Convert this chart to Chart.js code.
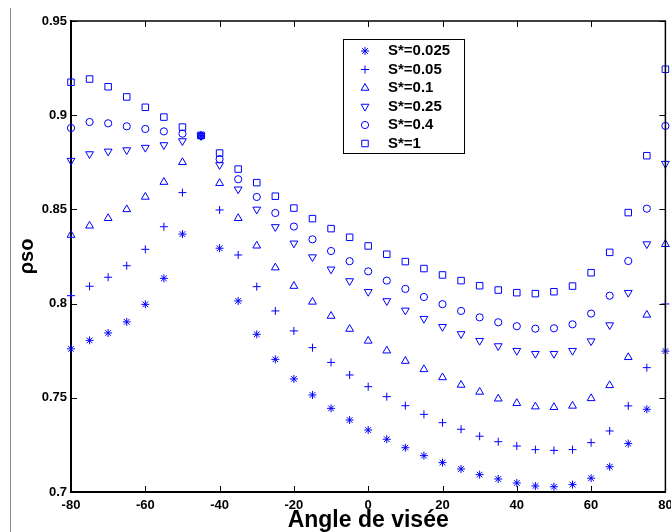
<!DOCTYPE html>
<html>
<head>
<meta charset="utf-8">
<script src="https://cdn.jsdelivr.net/npm/chart.js"></script>
<style>
  html, body { margin: 0; padding: 0; background: #fff; }
  #wrap { width: 671px; height: 532px; }
</style>
</head>
<body>
<div id="wrap"><canvas id="chart" width="671" height="532"></canvas></div>
<script>
// viewing angle (deg)
var angles = [-80, -75, -70, -65, -60, -55, -50, -45, -40, -35, -30, -25, -20, -15, -10, -5, 0,
              5, 10, 15, 20, 25, 30, 35, 40, 45, 50, 55, 60, 65, 70, 75, 80];

var s0025 = [0.776, 0.7805, 0.7844, 0.7903, 0.7996, 0.8134, 0.8369, 0.889, 0.8294, 0.8014, 0.7837,
             0.7704, 0.760, 0.7515, 0.7444, 0.7382, 0.7329, 0.728, 0.7235, 0.7193, 0.7156, 0.7122,
             0.7092, 0.7069, 0.7048, 0.7032, 0.7028, 0.7039, 0.7073, 0.7134, 0.7257, 0.7439, 0.7748];
var s005 = [0.8042, 0.8092, 0.814, 0.8201, 0.8288, 0.8408, 0.8589, 0.889, 0.8497, 0.8258, 0.809,
            0.7961, 0.7855, 0.7766, 0.7688, 0.7621, 0.7559, 0.7506, 0.7458, 0.7412, 0.7368, 0.7333,
            0.7296, 0.7267, 0.7244, 0.7225, 0.7221, 0.7225, 0.7262, 0.7324, 0.7457, 0.766, 0.7998];
var s01 = [0.8364, 0.8413, 0.8453, 0.850, 0.8566, 0.8645, 0.875, 0.889, 0.8639, 0.8453, 0.8307,
           0.8191, 0.8093, 0.8009, 0.7934, 0.7865, 0.7802, 0.775, 0.7695, 0.7651, 0.7608, 0.7568,
           0.7531, 0.7495, 0.7471, 0.7453, 0.745, 0.7457, 0.7497, 0.7566, 0.7715, 0.794, 0.8315];
var s025 = [0.8759, 0.8794, 0.8808, 0.8815, 0.8828, 0.8842, 0.8863, 0.889, 0.8736, 0.8607, 0.850,
            0.8407, 0.832, 0.8247, 0.8182, 0.812, 0.8063, 0.8014, 0.7964, 0.792, 0.7877, 0.7839,
            0.7803, 0.7775, 0.775, 0.7734, 0.7734, 0.775, 0.7801, 0.7886, 0.8058, 0.8316, 0.8743];
var s04 = [0.8932, 0.8964, 0.8957, 0.8941, 0.8927, 0.8914, 0.8902, 0.889, 0.8767, 0.866, 0.8566,
           0.8481, 0.8409, 0.8341, 0.8279, 0.8225, 0.8171, 0.8122, 0.8078, 0.8035, 0.7997, 0.7961,
           0.7927, 0.7901, 0.788, 0.7867, 0.7869, 0.789, 0.7947, 0.8042, 0.8226, 0.8504, 0.8943];
var s1 = [0.9175, 0.9192, 0.9151, 0.9097, 0.9042, 0.899, 0.8937, 0.8893, 0.8799, 0.8714, 0.8642,
          0.857, 0.8507, 0.8451, 0.8398, 0.8352, 0.8306, 0.8262, 0.8223, 0.8186, 0.8152, 0.8122,
          0.8095, 0.8072, 0.8058, 0.8053, 0.8063, 0.8093, 0.8164, 0.8272, 0.8483, 0.8785, 0.9244];

var labels = ['S*=0.025', 'S*=0.05', 'S*=0.1', 'S*=0.25', 'S*=0.4', 'S*=1'];
var series = [s0025, s005, s01, s025, s04, s1];
var markers = [
    { style: 'star', radius: 4, rotation: 0 },
    { style: 'cross', radius: 4, rotation: 0 },
    { style: 'triangle', radius: 4.5, rotation: 0 },
    { style: 'triangle', radius: 4.5, rotation: 180 },
    { style: 'circle', radius: 3.6, rotation: 0 },
    { style: 'rect', radius: 4.6, rotation: 0 }
];

var blue = 'rgb(0,0,255)';
var fontFam = "'Liberation Sans', Arial, sans-serif";

var datasets = series.map(function (vals, i) {
    return {
        label: labels[i],
        data: vals.map(function (v, k) { return { x: angles[k], y: v }; }),
        showLine: false,
        pointStyle: markers[i].style,
        pointRadius: markers[i].radius,
        pointRotation: markers[i].rotation,
        pointBorderWidth: 1,
        pointBorderColor: blue,
        pointBackgroundColor: 'rgba(0,0,0,0)',
        clip: false
    };
});

// frame, inward ticks, legend box and the grey figure edge
var decor = {
    id: 'decor',
    beforeDraw: function (chart) {
        var ctx = chart.ctx;
        ctx.save();
        ctx.fillStyle = '#fff';
        ctx.fillRect(0, 0, chart.width, chart.height);
        ctx.strokeStyle = '#8a8a8a';
        ctx.lineWidth = 1;
        ctx.beginPath();
        ctx.moveTo(10.5, 8);
        ctx.lineTo(10.5, chart.height);
        ctx.stroke();
        ctx.restore();
    },
    afterDraw: function (chart) {
        var ctx = chart.ctx, a = chart.chartArea;
        var xs = chart.scales.x, ys = chart.scales.y;
        ctx.save();
        ctx.strokeStyle = '#000';
        ctx.lineWidth = 1.5;
        ctx.beginPath();
        ctx.moveTo(a.left, a.top);
        ctx.lineTo(a.right, a.top);
        ctx.lineTo(a.right, a.bottom);
        ctx.stroke();

        ctx.lineWidth = 1;
        ctx.beginPath();
        xs.ticks.forEach(function (t) {
            var px = Math.round(xs.getPixelForValue(t.value)) + 0.5;
            ctx.moveTo(px, a.bottom); ctx.lineTo(px, a.bottom - 6);
            ctx.moveTo(px, a.top); ctx.lineTo(px, a.top + 6);
        });
        ys.ticks.forEach(function (t) {
            var py = Math.round(ys.getPixelForValue(t.value)) + 0.5;
            ctx.moveTo(a.left, py); ctx.lineTo(a.left + 6, py);
            ctx.moveTo(a.right, py); ctx.lineTo(a.right - 6, py);
        });
        ctx.stroke();

        // legend
        var bx = a.left + 272, by = a.top + 18, bw = 121, bh = 114;
        ctx.fillStyle = '#fff';
        ctx.fillRect(bx, by, bw, bh);
        ctx.strokeStyle = '#000';
        ctx.lineWidth = 1;
        ctx.strokeRect(bx + 0.5, by + 0.5, bw, bh);
        ctx.font = 'bold 15px ' + fontFam;
        ctx.textBaseline = 'middle';
        ctx.textAlign = 'left';
        chart.data.datasets.forEach(function (ds, i) {
            var ry = by + 12 + i * 18.5;
            ctx.strokeStyle = blue;
            ctx.fillStyle = 'rgba(0,0,0,0)';
            Chart.helpers.drawPoint(ctx, {
                pointStyle: ds.pointStyle,
                radius: ds.pointRadius,
                rotation: ds.pointRotation,
                borderWidth: 1
            }, bx + 22, ry);
            ctx.fillStyle = '#000';
            ctx.fillText(ds.label, bx + 45, ry);
        });
        ctx.restore();
    }
};

new Chart(document.getElementById('chart'), {
    type: 'scatter',
    data: { datasets: datasets },
    options: {
        responsive: false,
        animation: false,
        layout: { padding: { top: 21, right: 4, left: 0, bottom: 0 } },
        plugins: {
            legend: { display: false },
            tooltip: { enabled: false }
        },
        scales: {
            x: {
                type: 'linear',
                min: -80,
                max: 80,
                afterFit: function (s) { s.height = 40; s.paddingLeft = 0; s.paddingRight = 0; },
                ticks: {
                    stepSize: 20,
                    padding: 6,
                    color: '#000',
                    font: { family: fontFam, size: 13, weight: 'bold' },
                    maxRotation: 0
                },
                grid: { display: true, drawOnChartArea: false, drawTicks: false },
                border: { display: true, color: '#000', width: 2 },
                title: {
                    display: true,
                    text: 'Angle de visée',
                    color: '#000',
                    font: { family: fontFam, size: 23, weight: 'bold' },
                    padding: { top: 0, bottom: -2 }
                }
            },
            y: {
                min: 0.7,
                max: 0.95,
                afterFit: function (s) { s.width = 71; s.paddingTop = 0; s.paddingBottom = 0; },
                ticks: {
                    stepSize: 0.05,
                    padding: 4,
                    color: '#000',
                    font: { family: fontFam, size: 13, weight: 'bold' },
                    callback: function (v) { return String(Number(v.toFixed(2))); }
                },
                grid: { display: true, drawOnChartArea: false, drawTicks: false },
                border: { display: true, color: '#000', width: 2 },
                title: {
                    display: true,
                    text: 'ρso',
                    color: '#000',
                    font: { family: fontFam, size: 20, weight: 'bold' },
                    padding: { top: 15, bottom: 0 }
                }
            }
        }
    },
    plugins: [decor]
});
</script>
</body>
</html>
